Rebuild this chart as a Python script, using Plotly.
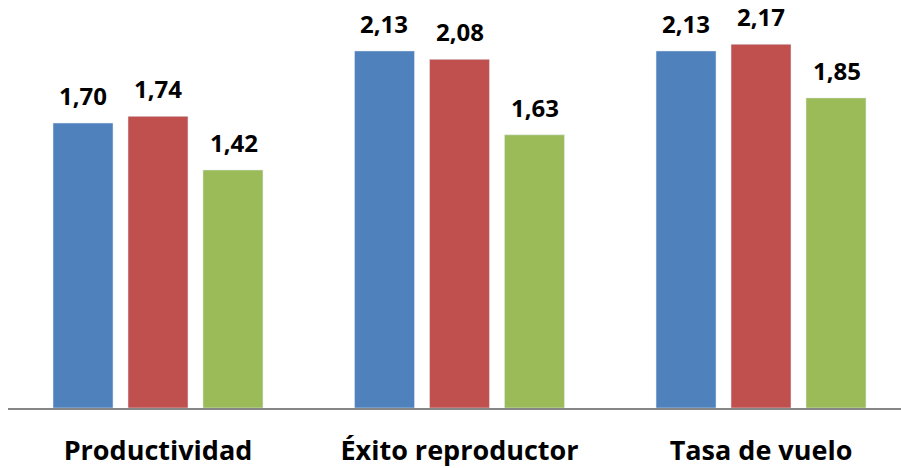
import plotly.graph_objects as go

categorias = ["Productividad", "Éxito reproductor", "Tasa de vuelo"]
serie_azul = [1.70, 2.13, 2.13]
serie_roja = [1.74, 2.08, 2.17]
serie_verde = [1.42, 1.63, 1.85]

series = [serie_azul, serie_roja, serie_verde]
colores = ["#4F81BD", "#C0504D", "#9BBB59"]
fuente = "Open Sans"

fig = go.Figure()
for vals, col in zip(series, colores):
    fig.add_trace(go.Bar(x=categorias, y=vals, marker_color=col, showlegend=False))

# etiquetas de datos (coma decimal), colocadas sobre cada barra
anots = []
for i, vals in enumerate(series):
    for cat, v in zip(categorias, vals):
        anots.append(dict(
            x=cat, y=v, xref="x", yref="y",
            text="<b>" + f"{v:.2f}".replace(".", ",") + "</b>",
            showarrow=False, yanchor="bottom",
            xshift=(i - 1) * 75.5, yshift=9,
            font=dict(family=fuente, size=24, color="#000000"),
        ))

fig.update_layout(
    width=901, height=468,
    margin=dict(l=8, r=0, t=0, b=60),
    paper_bgcolor="white", plot_bgcolor="white",
    barmode="group", bargap=0.254, bargroupgap=0.2,
    annotations=anots,
    xaxis=dict(
        range=[-0.4975, 2.4643], automargin=False,
        showline=True, linecolor="#868686", linewidth=2,
        ticks="outside", ticklen=18, tickcolor="rgba(0,0,0,0)",
        tickfont=dict(family=fuente, size=27, color="#000000", weight="bold"),
        showgrid=False,
    ),
    yaxis=dict(range=[0, 2.434], visible=False, showgrid=False, automargin=False),
)

# quitar el margen de 8 px que el navegador pone al body
fig.write_html("out.html", config={"displayModeBar": False},
               post_script="document.body.style.margin='0';")
